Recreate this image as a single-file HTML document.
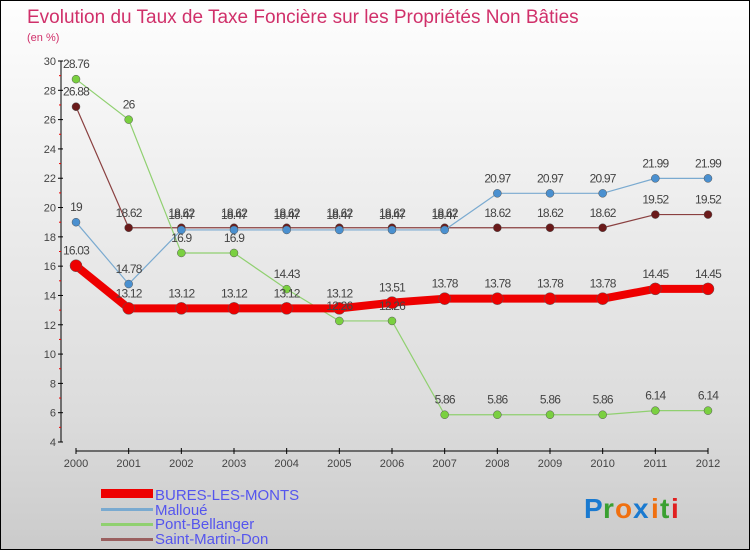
<!DOCTYPE html>
<html><head><meta charset="utf-8"><style>
body{margin:0;}
#wrap{position:relative;width:750px;height:550px;box-sizing:border-box;border:1px solid #000;background:linear-gradient(#fefefe,#f0f0f0 30%,#dcdcdc 75%,#cbcbcb);font-family:"Liberation Sans",sans-serif;overflow:hidden}
svg text{font-family:"Liberation Sans",sans-serif}
</style></head><body>
<div id="wrap">
<svg id="chart" width="750" height="550">
<text x="26" y="22" font-size="19" fill="#d0306a">Evolution du Taux de Taxe Foncière sur les Propriétés Non Bâties</text>
<text x="26" y="40" font-size="11" fill="#d0306a">(en %)</text>
<g id="axes"></g><g id="series"></g><g id="labels"></g>
<g>
<rect x="100" y="488" width="52" height="9" fill="#e00"/>
<text x="154" y="499" font-size="15" fill="#5555ee">BURES-LES-MONTS</text>
<rect x="100" y="507" width="52" height="3" fill="#7aaad0"/>
<text x="154" y="514" font-size="15" fill="#5555ee">Malloué</text>
<rect x="100" y="522" width="52" height="3" fill="#90d070"/>
<text x="154" y="528" font-size="15" fill="#5555ee">Pont-Bellanger</text>
<rect x="100" y="537" width="52" height="3" fill="#9a6060"/>
<text x="154" y="543" font-size="15" fill="#5555ee">Saint-Martin-Don</text>
</g>
<g font-size="28" font-weight="bold">
<text x="583" y="517" fill="#1a7ad0">P</text><text x="602" y="517" fill="#3aa030">r</text><text x="614" y="517" fill="#f07010">o</text><text x="632" y="517" fill="#1a7ad0">x</text><text x="650" y="517" fill="#f07010">i</text><text x="659" y="517" fill="#3aa030">t</text><text x="670" y="517" fill="#e02020">i</text>
</g>
</svg>
</div>
<script>
const years=["2000","2001","2002","2003","2004","2005","2006","2007","2008","2009","2010","2011","2012"];
const bures=[16.03,13.12,13.12,13.12,13.12,13.12,13.51,13.78,13.78,13.78,13.78,14.45,14.45];
const mallou=[19,14.78,18.47,18.47,18.47,18.47,18.47,18.47,20.97,20.97,20.97,21.99,21.99];
const pont=[28.76,26,16.9,16.9,14.43,12.26,12.26,5.86,5.86,5.86,5.86,6.14,6.14];
const saint=[26.88,18.62,18.62,18.62,18.62,18.62,18.62,18.62,18.62,18.62,18.62,19.52,19.52];
const yTicks=[4,6,8,10,12,14,16,18,20,22,24,26,28,30];
const NS="http://www.w3.org/2000/svg";
function X(i){return 75+i*(707-75)/(years.length-1);}
function Y(v){return 441-(v-4)*(441-60)/26;}
function mk(tag,attrs,parent,txt){const e=document.createElementNS(NS,tag);for(const k in attrs)e.setAttribute(k,attrs[k]);if(txt!==undefined)e.textContent=txt;parent.appendChild(e);return e;}
const axes=document.getElementById('axes'),ser=document.getElementById('series'),lab=document.getElementById('labels');
let a=mk('line',{x1:60,y1:60,x2:60,y2:441,stroke:'#000','stroke-width':1},axes);


yTicks.forEach(t=>{
 const tk=mk('line',{x1:57,y1:Y(t),x2:62,y2:Y(t),stroke:'#000'},axes);
 
 
 const tl=mk('text',{x:55,y:Y(t)+4,'font-size':11,fill:'#444','text-anchor':'end'},axes,String(t));
 
 
 if(t<30){const m=mk('line',{x1:58,y1:Y(t+1),x2:60,y2:Y(t+1),stroke:'#e00'},axes);
 
 }
});
a=mk('line',{x1:75,y1:450,x2:707,y2:450,stroke:'#000'},axes);


years.forEach((y,i)=>{
 const tk=mk('line',{x1:X(i),y1:447,x2:X(i),y2:453,stroke:'#000'},axes);
 
 
 const tl=mk('text',{x:X(i),y:466,'font-size':11,fill:'#444','text-anchor':'middle'},axes,y);
 
 
});
function draw(vals,name,color,dot,w,r){
 const pts=vals.map((v,i)=>X(i)+','+Y(v)).join(' ');
 const pl=mk('polyline',{points:pts,fill:'none',stroke:color,'stroke-width':w,'stroke-linejoin':'round'},ser);
 
 
 vals.forEach((v,i)=>{
  const c=mk('circle',{cx:X(i),cy:Y(v),r:r,fill:dot,stroke:'#555','stroke-width':0.5},ser);
  
  
  const t=mk('text',{x:X(i),y:Y(v)-11,'font-size':12,fill:'#444','text-anchor':'middle','letter-spacing':'-0.8'},lab,String(v));
  
  
 });
}
draw(saint,'saint-martin-don','#8a4040','#6a1a1a',1.2,4);
draw(pont,'pont-bellanger','#90d070','#7ad040',1.2,4);
draw(mallou,'mallou','#7aaad0','#4a90d0',1.2,4);
draw(bures,'bures-les-monts','#e00','#e00',8,6);
</script>
</body></html>
